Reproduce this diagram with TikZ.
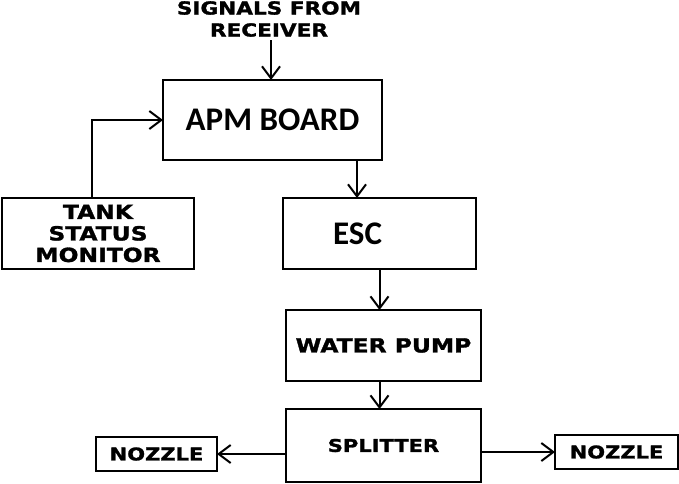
\documentclass[tikz,border=0pt]{standalone}
\usepackage{fontspec}
\usetikzlibrary{arrows.meta, positioning}
\newfontfamily\widefont[FakeStretch=1.2, FakeBold=1.5]{DejaVu Sans}
\newfontfamily\calfont{Carlito}

\begin{document}
\begin{tikzpicture}[
  x=1pt, y=-1pt,
  node distance=40pt and 70pt,
  box/.style={rectangle, draw, line width=2.8pt, inner sep=0pt, outer sep=0pt, align=center},
  bigtxt/.style={font=\calfont\bfseries\fontsize{33}{36}\selectfont},
  toptxt/.style={font=\widefont\bfseries\fontsize{18}{22}\selectfont},
  widetxt/.style={font=\widefont\bfseries\fontsize{19.5}{21.5}\selectfont},
  smalltxt/.style={font=\widefont\bfseries\fontsize{17.5}{20}\selectfont},
  arr/.style={-{Straight Barb[length=12pt, width=18pt]}, line width=2pt},
]
  \useasboundingbox (0,0) rectangle (679,483);

  \node[toptxt, align=center] (sig) at (269,19) {SIGNALS FROM\\RECEIVER};
  \node[box, bigtxt, minimum width=219pt, minimum height=80pt] (apm) at (272.5,120) {APM BOARD};
  \node[box, widetxt, minimum width=192pt, minimum height=71pt] (tank) at (98,233.5) {TANK\\STATUS\\MONITOR};
  \node[box, bigtxt, minimum width=193pt, minimum height=71pt] (esc) at (379.5,233.5) {ESC\hspace*{44pt}};
  \node[box, widetxt, minimum width=195pt, minimum height=71pt, below=41pt of esc, xshift=4pt] (pump) {WATER PUMP};
  \node[box, smalltxt, minimum width=195pt, minimum height=73pt, below=28pt of pump] (split) {SPLITTER};
  \node[box, smalltxt, minimum width=121pt, minimum height=34pt, left=69pt of split, yshift=-8.5pt] (nl) {NOZZLE};
  \node[box, smalltxt, minimum width=123pt, minimum height=34pt, right=74pt of split, yshift=-6.5pt] (nr) {NOZZLE};

  \draw[arr] (sig.south -| apm.north) ++(-1.5pt,0) -- ([xshift=-1.5pt]apm.north);
  \draw[arr] ([xshift=-6pt]tank.north) |- (apm.west);
  \draw[arr] ([xshift=-22.5pt]esc.north |- apm.south) -- ([xshift=-22.5pt]esc.north);
  \draw[arr] (esc.south) -- (esc.south |- pump.north);
  \draw[arr] (pump.south -| esc.south) -- (split.north -| esc.south);

  % outputs of the splitter
  \draw[arr] (nl.east -| split.west) -- (nl.east);
  \draw[arr] (nr.west -| split.east) -- (nr.west);
\end{tikzpicture}
\end{document}
